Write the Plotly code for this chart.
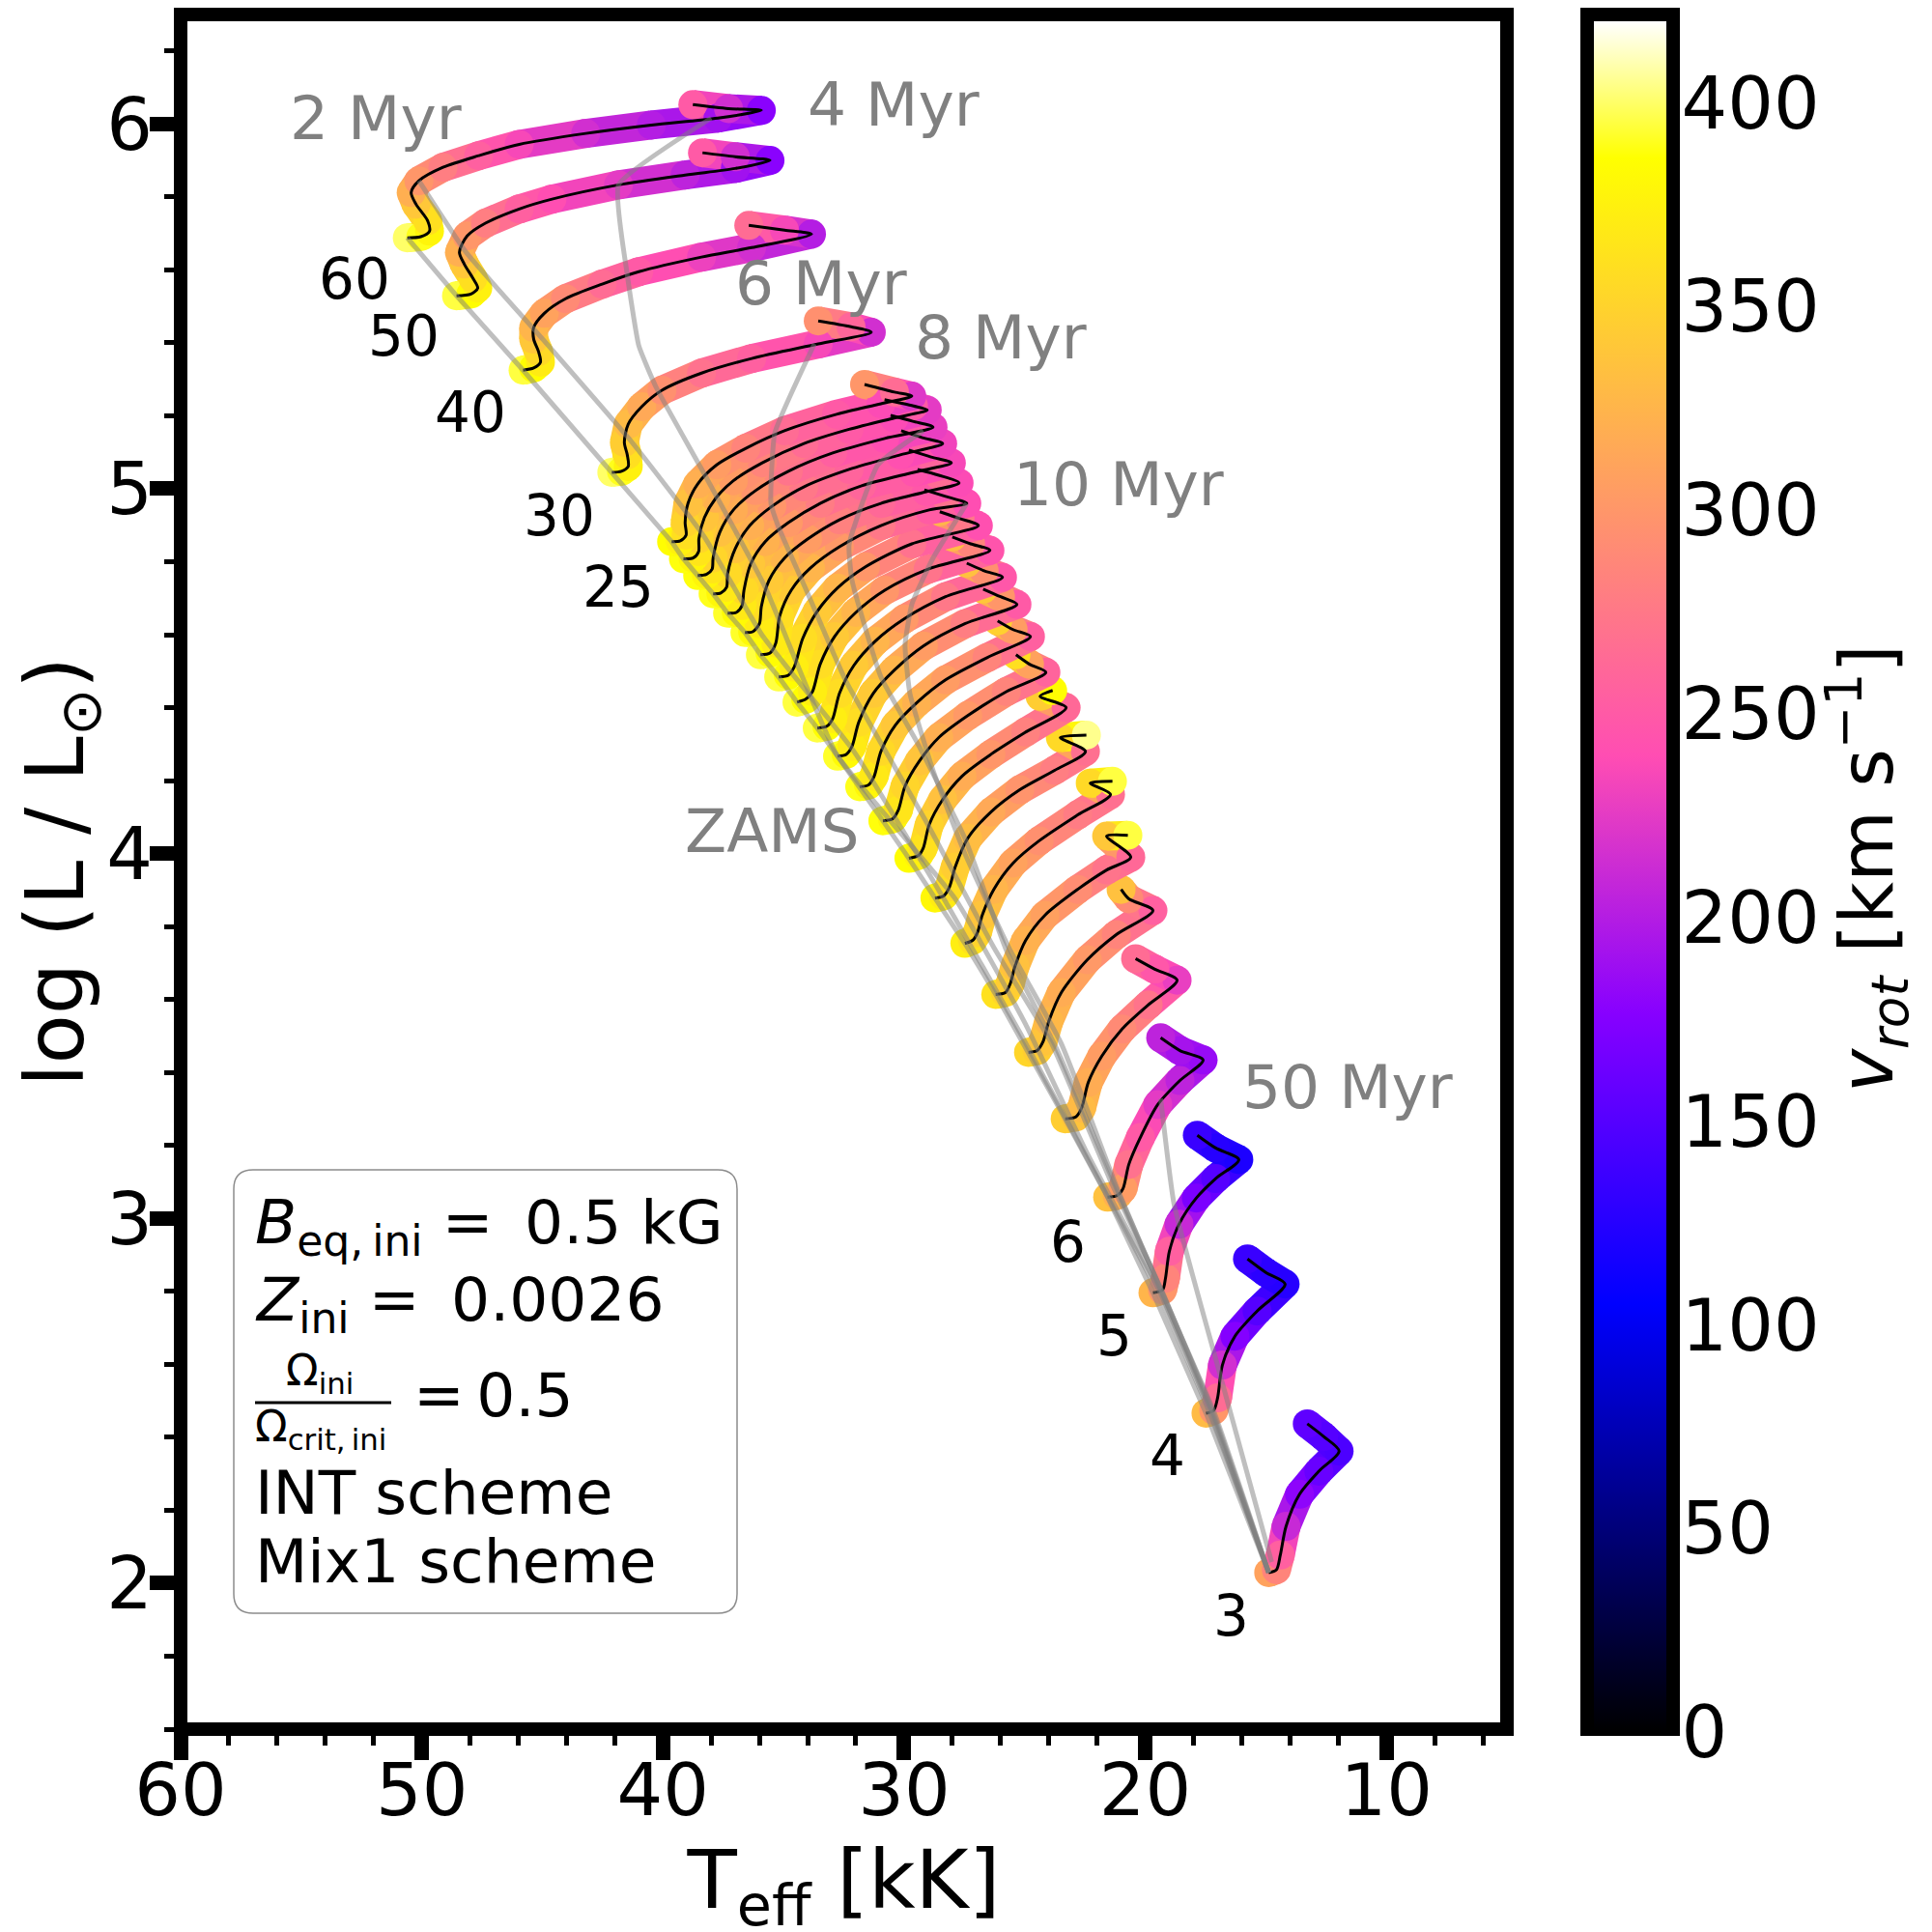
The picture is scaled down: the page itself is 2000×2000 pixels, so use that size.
import plotly.graph_objects as go
from plotly.colors import sample_colorscale

VMAX = 420
masses = [60,50,40,30,25,24,23,22,21,20,19,18,17,16,15,14,13,12,11,10,9,8,7,6,5,4,3]

teff_60=[50.6,50.04,49.68,49.76,50.24,50.44,50.12,49.12,47.64,45.96,43.2,40.48,37.72,35.92,37.28,38.76]
logl_60=[5.688,5.691,5.706,5.735,5.78,5.812,5.844,5.881,5.913,5.944,5.974,5.997,6.016,6.037,6.042,6.053]
vrot_60=[400,390,378,360,340,320,300,280,255,235,215,200,190,178,215,250]
teff_50=[48.56,47.96,47.68,47.88,48.24,48.44,48.12,47.36,45.96,44.6,41.84,39.08,37.0,35.56,37.0,38.36]
logl_50=[5.529,5.534,5.55,5.577,5.616,5.648,5.693,5.728,5.767,5.794,5.833,5.86,5.878,5.9,5.91,5.921]
vrot_50=[395,385,375,360,340,320,300,280,255,240,225,205,190,178,215,250]
teff_40=[45.8,45.36,45.08,45.16,45.36,45.36,44.92,44.04,42.52,41.0,38.4,36.32,33.84,34.96,36.44]
logl_40=[5.325,5.331,5.347,5.376,5.41,5.442,5.481,5.521,5.561,5.595,5.635,5.661,5.698,5.709,5.722]
vrot_40=[395,385,370,355,340,325,310,290,265,250,230,215,200,235,265]
teff_30=[42.12,41.72,41.44,41.48,41.6,41.44,40.88,40.04,38.4,36.32,33.56,31.36,32.2,33.56]
logl_30=[5.045,5.048,5.061,5.093,5.127,5.177,5.225,5.27,5.317,5.357,5.397,5.429,5.444,5.46]
vrot_30=[400,390,375,360,345,330,315,295,270,255,235,215,260,295]
teff_25=[39.64,39.28,39.04,39.08,38.96,38.56,37.76,36.56,34.96,32.8,30.96,29.68,30.4,31.64]
logl_25=[4.855,4.857,4.873,4.907,4.96,5.013,5.066,5.111,5.159,5.204,5.233,5.254,5.265,5.286]
vrot_25=[385,375,360,350,335,320,305,285,265,250,238,222,265,300]
teff_24=[39.15,38.75,38.52,38.51,38.28,37.81,37.08,35.88,34.15,32.28,30.41,29.04,29.61,30.81]
logl_24=[4.808,4.81,4.828,4.863,4.921,4.974,5.022,5.071,5.124,5.163,5.194,5.216,5.227,5.244]
vrot_24=[388,378,365,352,338,322,305,285,265,250,238,225,250,280]
teff_23=[38.56,38.2,37.96,37.92,37.64,37.08,36.16,34.8,32.96,30.8,28.8,29.64,30.56]
logl_23=[4.762,4.765,4.78,4.81,4.881,4.942,4.995,5.048,5.098,5.138,5.169,5.185,5.201]
vrot_23=[388,378,365,352,335,318,298,272,255,240,228,250,285]
teff_22=[37.92,37.6,37.36,37.32,37.0,36.4,35.48,34.16,32.28,30.16,28.4,29.24,30.12]
logl_22=[4.712,4.714,4.73,4.767,4.836,4.899,4.952,5.005,5.053,5.093,5.124,5.14,5.159]
vrot_22=[390,380,367,355,338,320,300,275,258,242,232,255,290]
teff_21=[37.32,36.96,36.72,36.64,36.36,35.76,34.8,33.48,31.76,29.6,28.04,28.88,29.8]
logl_21=[4.659,4.661,4.68,4.722,4.794,4.855,4.907,4.96,5.008,5.045,5.071,5.087,5.106]
vrot_21=[392,382,368,355,340,322,302,278,260,245,235,258,295]
teff_20=[36.6,36.28,36.0,35.92,35.6,34.96,34.0,32.68,30.96,29.08,27.72,28.56,29.44]
logl_20=[4.606,4.608,4.63,4.677,4.749,4.81,4.862,4.915,4.96,4.992,5.016,5.037,5.053]
vrot_20=[392,382,370,358,342,325,305,282,262,248,238,265,305]
teff_19=[35.96,35.56,35.32,35.16,34.68,33.88,32.68,30.96,28.96,27.4,28.28,29.16]
logl_19=[4.545,4.55,4.577,4.651,4.722,4.783,4.841,4.899,4.942,4.96,4.979,4.997]
vrot_19=[395,385,370,358,342,325,302,275,252,240,270,315]
teff_18=[35.2,34.8,34.56,34.2,33.6,32.76,31.6,29.68,26.92,27.68,28.52]
logl_18=[4.484,4.489,4.511,4.59,4.664,4.728,4.786,4.849,4.899,4.918,4.937]
vrot_18=[395,385,372,358,342,325,300,270,242,275,325]
teff_17=[34.44,34.08,33.8,33.48,32.88,32.0,30.8,29.0,26.44,27.24,28.0]
logl_17=[4.415,4.423,4.444,4.519,4.595,4.661,4.722,4.78,4.831,4.849,4.868]
vrot_17=[395,385,372,358,342,325,300,272,245,285,330]
teff_16=[33.6,33.2,32.96,32.68,32.08,31.2,30.0,28.28,25.92,26.68,27.4]
logl_16=[4.344,4.349,4.37,4.439,4.516,4.582,4.643,4.704,4.757,4.775,4.796]
vrot_16=[395,385,372,358,342,325,302,275,248,295,335]
teff_15=[32.76,32.4,32.16,31.88,31.28,30.4,29.2,27.48,25.32,26.0,26.72]
logl_15=[4.267,4.272,4.294,4.36,4.439,4.503,4.569,4.63,4.683,4.704,4.725]
vrot_15=[392,382,370,358,342,325,305,280,250,300,340]
teff_14=[31.84,31.48,31.24,30.96,30.36,29.48,28.28,26.56,24.76,25.48,26.12]
logl_14=[4.183,4.188,4.212,4.28,4.352,4.413,4.476,4.537,4.595,4.614,4.638]
vrot_14=[390,380,368,355,340,322,305,285,255,305,348]
teff_13=[30.88,30.48,30.24,29.96,29.36,28.56,27.36,25.76,24.12,24.8,25.36]
logl_13=[4.09,4.095,4.119,4.185,4.254,4.318,4.378,4.444,4.497,4.519,4.545]
vrot_13=[388,378,365,352,338,320,302,285,258,310,360]
teff_12=[29.8,29.4,29.2,28.96,28.4,27.6,26.4,24.96,23.28,24.36,23.84]
logl_12=[3.987,3.995,4.016,4.079,4.148,4.212,4.272,4.333,4.4,4.431,4.447]
vrot_12=[385,375,362,350,335,318,300,282,262,345,385]
teff_11=[28.72,28.36,28.12,27.88,27.36,26.4,25.2,23.76,22.48,23.52,22.44]
logl_11=[3.878,3.884,3.908,3.963,4.042,4.114,4.175,4.228,4.28,4.318,4.325]
vrot_11=[380,370,358,345,332,315,298,280,268,355,405]
teff_10=[27.48,27.16,26.96,26.76,26.28,25.48,24.4,22.8,21.44,22.28,21.36]
logl_10=[3.754,3.762,3.783,3.831,3.902,3.974,4.035,4.106,4.162,4.193,4.198]
vrot_10=[372,362,350,338,325,310,295,278,268,355,395]
teff_9=[26.2,25.8,25.6,25.4,24.96,24.16,22.8,21.6,20.6,21.6,20.72]
logl_9=[3.614,3.619,3.643,3.691,3.762,3.831,3.902,3.955,3.99,4.048,4.05]
vrot_9=[362,352,345,335,322,308,292,272,262,340,395]
teff_8=[24.84,24.48,24.24,24.0,23.48,22.4,21.2,19.68,20.68,21.0]
logl_8=[3.455,3.46,3.484,3.54,3.619,3.709,3.778,3.844,3.876,3.902]
vrot_8=[352,345,338,328,318,302,285,255,290,335]
teff_7=[23.32,22.88,22.64,22.36,21.8,20.96,19.88,18.68,19.6,20.4]
logl_7=[3.273,3.278,3.302,3.373,3.445,3.519,3.585,3.653,3.683,3.712]
vrot_7=[345,338,330,318,305,290,272,228,248,265]
teff_6=[21.56,21.16,20.92,20.68,20.2,19.48,18.56,17.6,18.56,19.36]
logl_6=[3.058,3.063,3.082,3.148,3.222,3.312,3.378,3.434,3.46,3.495]
vrot_6=[335,320,305,270,250,225,205,185,192,205]
teff_5=[19.68,19.28,19.16,19.0,18.6,17.88,17.08,16.12,17.08,17.84]
logl_5=[2.796,2.804,2.836,2.91,2.984,3.056,3.109,3.161,3.193,3.228]
vrot_5=[325,300,285,255,210,170,150,120,125,135]
teff_4=[17.48,17.16,17.0,16.8,16.28,15.36,14.2,15.0,15.76]
logl_4=[2.466,2.474,2.508,2.598,2.677,2.746,2.82,2.852,2.889]
vrot_4=[330,300,265,215,175,150,125,128,135]
teff_3=[14.88,14.56,14.4,14.16,13.6,12.8,11.96,12.6,13.28]
logl_3=[2.029,2.037,2.077,2.156,2.244,2.307,2.362,2.402,2.437]
vrot_3=[310,285,255,210,180,160,145,150,155]

iso2_t=[50.12,48.16,44.88,41.28,38.28,35.88,32.08,28.28,25.16,22.0,19.5,17.35,14.88]
iso2_l=[5.844,5.648,5.402,5.127,4.868,4.598,4.28,3.868,3.505,3.114,2.8,2.47,2.029]
iso4_t=[38.0,41.84,41.48,41.0,40.28,38.28,35.76,32.8,27.88,24.96,22.48,19.4,17.3,14.88]
iso4_l=[6.016,5.833,5.587,5.392,5.278,5.04,4.73,4.272,3.876,3.532,3.188,2.8,2.47,2.029]
iso6_t=[33.72,35.36,35.52,35.2,34.0,32.4,29.08,26.28,23.88,21.48,19.3,17.25,14.88]
iso6_l=[5.397,5.153,4.96,4.894,4.714,4.471,4.087,3.743,3.479,3.109,2.8,2.47,2.029]
iso8_t=[29.2,31.08,32.28,32.16,30.96,29.48,27.48,25.76,23.68,21.28,19.25,17.2,14.88]
iso8_l=[5.159,5.066,4.847,4.749,4.484,4.307,4.042,3.735,3.466,3.095,2.79,2.47,2.029]
iso10_t=[27.4,28.8,29.68,29.96,29.76,28.8,27.48,25.6,23.48,21.08,19.2,17.15,14.88]
iso10_l=[4.96,4.81,4.683,4.572,4.439,4.228,4.0,3.735,3.479,3.069,2.78,2.47,2.029]
iso50_t=[19.36,18.8,16.96,14.76]
iso50_l=[3.328,3.037,2.587,2.058]

x_ticks=[60,50,40,30,20,10]
y_ticks=[2,3,4,5,6]
cbar_ticks=[0,50,100,150,200,250,300,350,400]

ns = globals()
tracks=[(ns[f"teff_{m}"],ns[f"logl_{m}"],ns[f"vrot_{m}"]) for m in masses]

GNUPLOT2=[[0,"rgb(0,0,0)"],[0.25,"rgb(0,0,255)"],[0.42,"rgb(135,0,255)"],
          [0.57,"rgb(255,77,179)"],[0.92,"rgb(255,255,0)"],[1,"rgb(255,255,255)"]]

L,R,TOP,BOT=187,1560,15,1790
OFF=8
def px(x): return (x-L)/(R-L)
def py(y): return (BOT-y)/(BOT-TOP)

fig=go.Figure()
BAND=30
for t,l,v in reversed(tracks):
    for i in range(len(t)-1):
        c=sample_colorscale(GNUPLOT2,[(v[i]+v[i+1])/2/VMAX])[0]
        fig.add_trace(go.Scatter(x=t[i:i+2],y=l[i:i+2],mode="lines",line=dict(color=c,width=BAND),hoverinfo="skip"))
    fig.add_trace(go.Scatter(x=t,y=l,mode="markers",hoverinfo="skip",
        marker=dict(size=BAND,color=v,coloraxis="coloraxis",line=dict(width=0))))
for t,l,v in tracks:
    fig.add_trace(go.Scatter(x=t,y=l,mode="lines",hoverinfo="skip",
        line=dict(color="black",width=3,shape="spline",smoothing=0.8)))
GREY="rgba(128,128,128,0.5)"
fig.add_trace(go.Scatter(x=[t[0] for t,_,_ in tracks],y=[l[0] for _,l,_ in tracks],mode="lines",
    hoverinfo="skip",line=dict(color=GREY,width=5)))
for t,l in [(iso2_t,iso2_l),(iso4_t,iso4_l),(iso6_t,iso6_l),(iso8_t,iso8_l),(iso10_t,iso10_l),(iso50_t,iso50_l)]:
    fig.add_trace(go.Scatter(x=t,y=l,mode="lines",hoverinfo="skip",
        line=dict(color=GREY,width=5,shape="spline",smoothing=0.4)))

F="DejaVu Sans"
ann=[]
def text(s,x,y,size,color="black",anchor="center",angle=0):
    ann.append(dict(text=s,x=px(x-2.5),y=py(y-2.5),xref="paper",yref="paper",showarrow=False,textangle=angle,
        xanchor=anchor,yanchor="middle",font=dict(family=F,size=size,color=color)))
for s,x,y in [("2 Myr",391,125),("4 Myr",927,111),("6 Myr",852,296),("8 Myr",1038,352),
              ("10 Myr",1160,504),("ZAMS",802,863),("50 Myr",1397,1128)]:
    text(s,x,y,63,"gray")
for s,x,y in [("60",369,292),("50",420,351),("40",489,429),("30",581,536),("25",642,610),
              ("6",1108,1288),("5",1156,1385),("4",1211,1509),("3",1277,1675)]:
    text(s,x,y,58)
text("<i>B</i><sub>eq,\u2009ini</sub> = \u20090.5 kG",264,1272,63,anchor="left")
text("<i>Z</i><sub>ini</sub> = \u20090.0026",264,1352,63,anchor="left")
text("Ω<sub>ini</sub>",333,1424,44)
text("Ω<sub>crit,\u2009ini</sub>",334,1482,44)
text("=\u20090.5",428,1447,63,anchor="left")
text("INT scheme",264,1548,63,anchor="left")
text("Mix1 scheme",264,1619,63,anchor="left")
text("<i>v<sub>rot</sub></i> [km s<sup>−1</sup>]",1935,901,76,angle=-90)

r=20; x0,x1,y0,y1=px(242),px(763),py(1211),py(1670)
rx=r/(R-L); ry=r/(BOT-TOP)
box=(f"M {x0+rx} {y0} L {x1-rx} {y0} Q {x1} {y0} {x1} {y0-ry} L {x1} {y1+ry} Q {x1} {y1} {x1-rx} {y1} "
     f"L {x0+rx} {y1} Q {x0} {y1} {x0} {y1+ry} L {x0} {y0-ry} Q {x0} {y0} {x0+rx} {y0} Z")
shapes=[
    dict(type="path",path=box,xref="paper",yref="paper",line=dict(color="rgba(128,128,128,0.9)",width=1.5),layer="above"),
    dict(type="line",xref="paper",yref="paper",x0=px(264),x1=px(405),y0=py(1452),y1=py(1452),line=dict(color="black",width=3)),
    dict(type="rect",xref="paper",yref="paper",x0=0,x1=1,y0=0,y1=1,line=dict(color="black",width=14),layer="above"),
    dict(type="rect",xref="paper",yref="paper",x0=px(1643),x1=px(1732),y0=0,y1=1,line=dict(color="black",width=14),layer="above"),
]

fig.update_layout(
    width=2000,height=2000,margin=dict(l=L-OFF,r=2000-(R-OFF),t=TOP-OFF,b=2000-(BOT-OFF),autoexpand=False),
    paper_bgcolor="white",plot_bgcolor="white",showlegend=False,hovermode=False,
    font=dict(family=F,color="black"),annotations=ann,shapes=shapes,
    coloraxis=dict(cmin=0,cmax=VMAX,colorscale=GNUPLOT2,colorbar=dict(
        thickness=75,thicknessmode="pixels",len=1771/1775,lenmode="fraction",y=py(907.5),yanchor="middle",ypad=0,
        x=px(1650),xanchor="left",xpad=0,outlinewidth=0,
        tickvals=cbar_ticks,ticks="",tickfont=dict(family=F,size=75))),
    xaxis=dict(range=[60,5],tickvals=x_ticks,ticks="outside",ticklen=31,tickwidth=15,tickcolor="black",
        tickfont=dict(family=F,size=75),showgrid=False,zeroline=False,showline=False,ticklabelstandoff=-33,
        minor=dict(dtick=2,tick0=0,ticks="outside",ticklen=16,tickwidth=5,tickcolor="black",showgrid=False),
        title=dict(text="T<sub>eff</sub> [kK]",font=dict(family=F,size=84),standoff=16)),
    yaxis=dict(range=[1.6,6.3],tickvals=y_ticks,ticks="outside",ticklen=31,tickwidth=15,tickcolor="black",
        tickfont=dict(family=F,size=75),showgrid=False,zeroline=False,showline=False,ticklabelstandoff=-18,
        minor=dict(dtick=0.2,tick0=0,ticks="outside",ticklen=16,tickwidth=5,tickcolor="black",showgrid=False),
        title=dict(text="log (L / L<sub>⊙</sub>)",font=dict(family=F,size=84),standoff=27)),
)
fig.write_html("out.html")
